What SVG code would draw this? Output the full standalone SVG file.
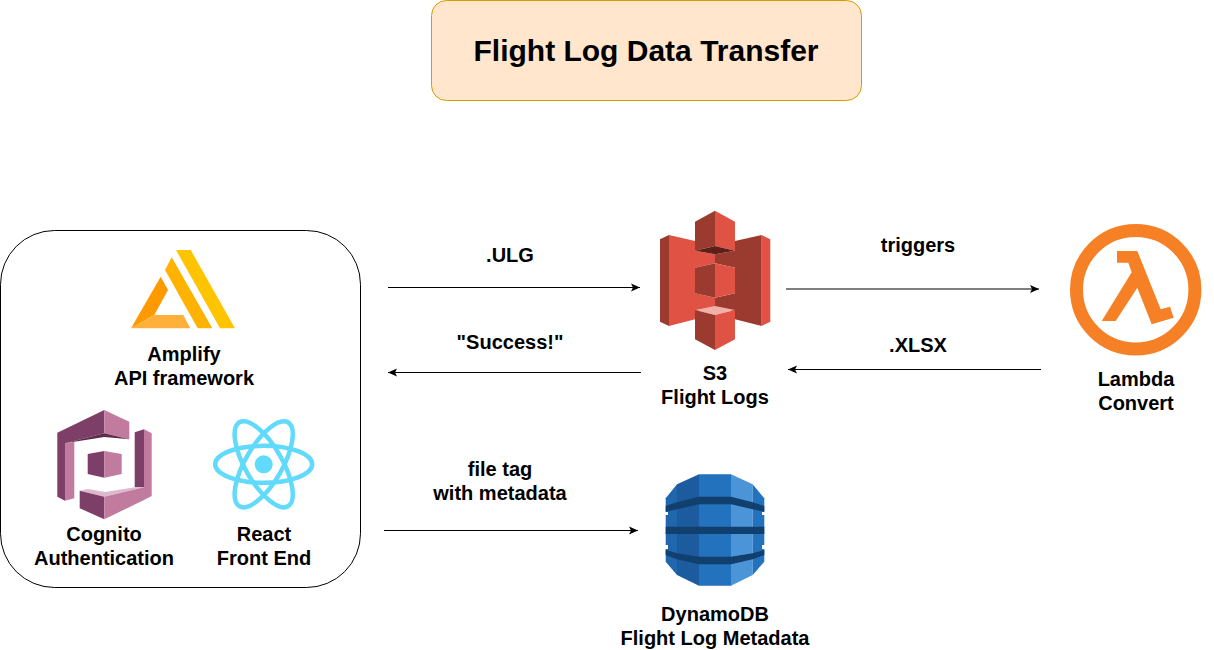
<svg xmlns="http://www.w3.org/2000/svg" width="1214" height="650" viewBox="0 0 1214 650">
<style>
text{font-family:"Liberation Sans",Arial,sans-serif;font-weight:bold;font-size:20px;fill:#000;text-anchor:middle}
.c{fill:none;stroke:#000;stroke-width:1.2;marker-end:url(#a)}
.rd{fill:#9b3a2e}.rl{fill:#e05243}
.pd{fill:#7d3f67}.pl{fill:#c17b9f}
.band{fill:#113f6e}
</style>
<defs><marker id="a" markerUnits="userSpaceOnUse" markerWidth="10" markerHeight="9" refX="9" refY="4.500" orient="auto"><path d="M0 0.500L9 4.500L0 8.500L2 4.500Z" fill="#000"/></marker></defs>
<rect width="1214" height="650" fill="#fff"/>
<g id="title"><rect x="431.500" y="0.500" width="430" height="100" rx="15" fill="#ffe6cc" stroke="#d79b00"/><text x="646" y="61" style="font-size:30px">Flight Log Data Transfer</text></g>
<g id="frontend-box"><rect x="0.500" y="230.500" width="360" height="357" rx="54" fill="#fff" stroke="#000"/></g>
<g id="amplify">
<path fill="#ffc400" d="M176 250H190.700L235 328.300H220Z"/>
<path fill="#ffb300" d="M171.700 257.300L212.300 328.300H197.700L165 270Z"/>
<path fill="#ff9900" d="M160.700 276.700L168 290L154.300 315L131 328.300Z"/>
<path fill="#ffb03b" d="M154.300 315H183.300L190.300 328.300H131Z"/>
<text x="184" y="361">Amplify</text><text x="184" y="385">API framework</text></g>
<g id="cognito">
<path class="pd" d="M57.300 432.700L104.300 410V433.300L65 443.300V500.700L57.300 496.700Z"/>
<path class="pl" d="M104.300 410L129.300 421.700V439.300L104.300 433.300Z"/>
<path fill="#5f2c4d" d="M65 443.300L104.300 433.300L129.300 439.300L104.300 437Z"/>
<path class="pl" d="M65 443.300L74.300 441.700V498.300L65 500.700Z"/>
<path class="pd" d="M87.700 454L104.300 451V477.700L87.700 474Z"/>
<path class="pl" d="M104.300 451L121.700 454V474L104.300 477.700Z"/>
<path class="pd" d="M134.700 432.300L144 429.300V487.300H134.700Z"/>
<path class="pl" d="M144 429.300L151.700 433.300V496L144 500Z"/>
<path fill="#dcb9cd" d="M79.700 490.700L88 489L105 492L135 487.300H144L104.300 496.700Z"/>
<path class="pd" d="M79.700 490.700L104.300 496.700V519.300L79.700 508.300Z"/>
<path class="pl" d="M104.300 496.700L144 487.300V500L104.300 519.300Z"/>
<text x="104" y="541">Cognito</text><text x="104" y="565">Authentication</text></g>
<g id="react" fill="none" stroke="#61dafb" stroke-width="4.500">
<circle cx="263.700" cy="464.300" r="9" fill="#61dafb" stroke="none"/>
<ellipse cx="263.700" cy="464.300" rx="48.500" ry="18.500"/>
<ellipse cx="263.700" cy="464.300" rx="48.500" ry="18.500" transform="rotate(60 263.700 464.300)"/>
<ellipse cx="263.700" cy="464.300" rx="48.500" ry="18.500" transform="rotate(120 263.700 464.300)"/>
<text x="264" y="541" stroke="none">React</text><text x="264" y="565" stroke="none">Front End</text></g>
<g id="s3">
<path class="rd" d="M660 239.300L669 235V326L660 321.700Z"/>
<path class="rl" d="M669 235L695 241V250.700L715 254.300V263.300L695 267.700V293.300L715 297.700V306.700L695 311.700V319.300L669 326Z"/>
<path class="rd" d="M715 254.300L735 250.700V241L761.700 235V326L735 319.300V311.700L715 306.700V297.700L735 293.300V267.700L715 263.300Z"/>
<path class="rl" d="M761.700 235L770.300 239.300V321.700L761.700 326Z"/>
<path class="rd" d="M695 221.700L715 210.700V246L695 250.700Z"/>
<path class="rl" d="M715 210.700L735 221.700V250.700L715 246Z"/>
<path fill="#5e1f18" d="M695 250.700L715 246L735 250.700L715 254.300Z"/>
<path class="rd" d="M695 267.700L715 263.300V297.700L695 293.300Z"/>
<path class="rl" d="M715 263.300L735 267.700V293.300L715 297.700Z"/>
<path fill="#f2b0a9" d="M695 310L715 306L735 310L715 315Z"/>
<path class="rd" d="M695 310L715 315V350L695 339.300Z"/>
<path class="rl" d="M715 315L735 310V339.300L715 350Z"/>
<text x="715" y="380">S3</text><text x="715" y="404">Flight Logs</text></g>
<g id="dynamodb">
<path fill="#1f66ad" d="M665.700 498.300L677 484.300V575L665.700 561.700Z"/>
<path fill="#1c5c9e" d="M677 484.300L699 474.300V585.700L677 575Z"/>
<path fill="#2272bd" d="M699 474.300H731V585.700H699Z"/>
<path fill="#4c94d8" d="M731 474.300L752.700 484.300V575L731 585.700Z"/>
<path fill="#2272bd" d="M752.700 484.300L764.300 498.300V561.700L752.700 575Z"/>
<path class="band" d="M665.700 506L677 502.300L699 496.700H731L752.700 502.300L764.300 506V511.700L752.700 509.300L731 504.300H699L677 509.300L665.700 511.700Z"/>
<path class="band" d="M665.700 526.700H764.300V534H665.700Z"/>
<path class="band" d="M665.700 550L677 553.300L699 556.700H731L752.700 553.300L764.300 550V555L752.700 559.300L731 564.300H699L677 559.300L665.700 555Z"/>
<path fill="#fff" d="M665 512H668V515H665ZM762 512H765V515H762ZM665 545H668V549H665ZM762 545H765V549H762Z"/>
<text x="715" y="621">DynamoDB</text><text x="715" y="645">Flight Log Metadata</text></g>
<g id="lambda">
<circle cx="1135.700" cy="289.700" r="59.200" fill="none" stroke="#f58025" stroke-width="13"/>
<path fill="#f58025" d="M1117 251H1137.300L1160.700 309.300L1170 306.700L1173.700 317.700L1151.700 324.300L1137.300 287.700L1115.700 321H1101.700L1131.700 272.300L1128.300 262.700H1117Z"/>
<text x="1136" y="386">Lambda</text><text x="1136" y="410">Convert</text></g>
<g id="connectors">
<path class="c" d="M388 287.500H640"/>
<path class="c" d="M641 372.500H388"/>
<path class="c" d="M786 289H1039"/>
<path class="c" d="M1041 369.500H788"/>
<path class="c" d="M384 530.500H638"/>
</g>
<g id="labels">
<text x="510" y="262">.ULG</text>
<text x="510" y="349">"Success!"</text>
<text x="918" y="252">triggers</text>
<text x="918" y="352">.XLSX</text>
<text x="500" y="476">file tag</text><text x="500" y="500">with metadata</text>
</g>
</svg>
